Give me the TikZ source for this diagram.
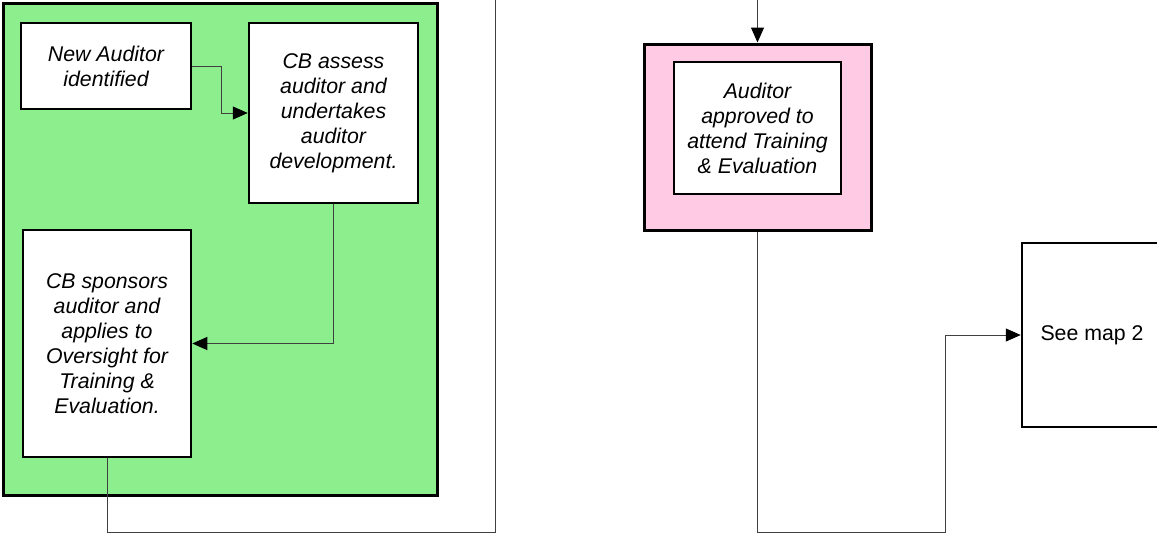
\documentclass[tikz,border=0pt]{standalone}
\usepackage{fontspec}
\setmainfont{Liberation Sans}
\usetikzlibrary{arrows.meta,positioning}

\definecolor{zonegreen}{RGB}{140,238,140}
\definecolor{zonepink}{RGB}{255,202,228}

\tikzset{
  stepbox/.style={draw,line width=2.5pt,fill=white,align=center,inner sep=0pt,
    font=\fontsize{21.3}{25}\selectfont\itshape},
  zone/.style={draw,line width=3pt,inner sep=0pt},
  link/.style={draw=black!75,line width=1pt},
  headtip/.style={-{Triangle[length=15pt,width=13pt,color=black]}}
}

\begin{document}
\begin{tikzpicture}[x=1pt,y=-1pt]
  \useasboundingbox (0,0) rectangle (1157,533);

  % zones
  \node[zone,fill=zonegreen,minimum width=434pt,minimum height=492pt] (cbzone) at (220,249) {};
  \node[zone,fill=zonepink,minimum width=227pt,minimum height=186pt] (okzone) at (757.5,137) {};

  % steps
  \node[stepbox,minimum width=170pt,minimum height=86pt] (newaud) at (106,66) {New Auditor\\identified};
  \node[stepbox,minimum width=169pt,minimum height=180pt] (assess) at (333.5,113) {CB assess\\auditor and\\undertakes\\auditor\\development.};
  \node[stepbox,minimum width=168pt,minimum height=227pt] (sponsor) at (107,343.5) {CB sponsors\\auditor and\\applies to\\Oversight for\\Training \&\\Evaluation.};
  \node[stepbox,minimum width=167pt,minimum height=132pt] (approved) at (757.5,128) {Auditor\\approved to\\attend Training\\\& Evaluation};
  \node[stepbox,font=\fontsize{21.3}{25}\selectfont,minimum width=140pt,minimum height=184pt] (seemap) at (1092,335) {See map 2};

  % connectors
  \coordinate (loopL) at (495,532);
  \coordinate (outL) at (495,-2);
  \coordinate (outR) at (757.5,-2);
  \coordinate (loopR) at (945,532);

  \draw[link,headtip] (newaud.east) -- ++(29,0) |- (assess.west);
  \draw[link,headtip] (assess.south) |- (sponsor.east);
  \draw[link] (sponsor.south) |- (loopL) -- (outL);
  \draw[link,headtip] (outR) -- (okzone.north);
  \draw[link,headtip] (okzone.south) |- (loopR) |- (seemap.west);
\end{tikzpicture}
\end{document}
